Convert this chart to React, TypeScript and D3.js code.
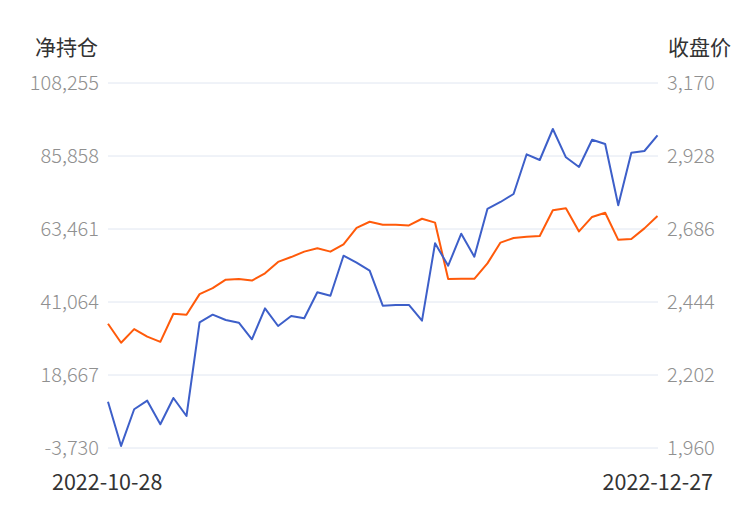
import { useEffect, useRef } from 'react'
import * as d3 from 'd3'

// 净持仓 (left axis) and 收盘价 (right axis), one point per trading day
const netPosition = [
  10480, -3100, 8150, 10790, 3540, 11610, 6090, 34840, 37170, 35540,
  34720, 29620, 39130, 33700, 36770, 36070, 44040, 43000, 55270, 53120,
  50670, 39930, 40150, 40150, 35330, 59080, 52200, 62020, 54960, 69600,
  71750, 74200, 86380, 84630, 94140, 85460, 82480, 90860, 89540, 70730,
  86870, 87390, 92210
]
const closePrice = [
  2372, 2309, 2354, 2329, 2312, 2405, 2402, 2470, 2490, 2518,
  2520, 2515, 2539, 2577, 2593, 2611, 2622, 2611, 2635, 2690,
  2710, 2700, 2700, 2698, 2720, 2707, 2520, 2521, 2521, 2572,
  2641, 2656, 2660, 2663, 2748, 2755, 2678, 2726, 2740, 2650,
  2653, 2688, 2729
]
const leftTicks = [-3730, 18667, 41064, 63461, 85858, 108255]
const rightTicks = [1960, 2202, 2444, 2686, 2928, 3170]
const dateLabels = ['2022-10-28', '2022-12-27']

const font = '"Noto Sans CJK SC", "Noto Sans", sans-serif'

export default function App() {
  const svgRef = useRef<SVGSVGElement>(null)

  useEffect(() => {
    if (!svgRef.current) return
    const width = 750
    const height = 510
    const left = 108
    const right = 658
    const top = 83
    const bottom = 448

    const svg = d3.select(svgRef.current)
    svg.selectAll('*').remove()
    svg.attr('width', width).attr('height', height)

    const x = d3.scaleLinear().domain([0, netPosition.length - 1]).range([left, right - 0.5])
    const yL = d3.scaleLinear().domain([leftTicks[0], leftTicks[leftTicks.length - 1]]).range([bottom, top])
    const yR = d3.scaleLinear().domain([rightTicks[0], rightTicks[rightTicks.length - 1]]).range([bottom, top])

    // grid lines
    svg.append('g')
      .selectAll('line')
      .data(leftTicks)
      .enter()
      .append('line')
      .attr('x1', left)
      .attr('x2', right)
      .attr('y1', d => yL(d))
      .attr('y2', d => yL(d))
      .attr('stroke', '#e0e6f1')
      .attr('stroke-width', 1)

    const fmt = (v: number) => d3.format(',')(v).replace('−', '-')

    // left tick labels
    svg.append('g')
      .selectAll('text')
      .data(leftTicks)
      .enter()
      .append('text')
      .attr('x', 99)
      .attr('y', d => yL(d))
      .attr('dy', '0.35em')
      .attr('text-anchor', 'end')
      .style('font-family', font)
      .style('font-weight', 300)
      .style('font-size', '20px')
      .style('fill', '#909090')
      .text(d => fmt(d))

    // right tick labels
    svg.append('g')
      .selectAll('text')
      .data(rightTicks)
      .enter()
      .append('text')
      .attr('x', 667)
      .attr('y', d => yR(d))
      .attr('dy', '0.35em')
      .attr('text-anchor', 'start')
      .style('font-family', font)
      .style('font-weight', 300)
      .style('font-size', '20px')
      .style('fill', '#909090')
      .text(d => fmt(d))

    // axis titles
    svg.append('text')
      .attr('x', 35).attr('y', 48).attr('dy', '0.35em')
      .style('font-family', font).style('font-size', '21px').style('fill', '#333')
      .text('净持仓')
    svg.append('text')
      .attr('x', 731).attr('y', 48).attr('dy', '0.35em')
      .attr('text-anchor', 'end')
      .style('font-family', font).style('font-size', '21px').style('fill', '#333')
      .text('收盘价')

    // date labels
    svg.append('text')
      .attr('x', 52).attr('y', 482).attr('dy', '0.35em')
      .style('font-family', font).style('font-size', '21.5px').style('fill', '#333')
      .text(dateLabels[0])
    svg.append('text')
      .attr('x', 713).attr('y', 482).attr('dy', '0.35em')
      .attr('text-anchor', 'end')
      .style('font-family', font).style('font-size', '21.5px').style('fill', '#333')
      .text(dateLabels[1])

    // lines
    const priceLine = d3.line<number>()
      .x((_, i) => x(i))
      .y(d => yR(d))
    const netLine = d3.line<number>()
      .x((_, i) => x(i))
      .y(d => yL(d))

    svg.append('path')
      .datum(closePrice)
      .attr('d', priceLine)
      .attr('fill', 'none')
      .attr('stroke', '#ff5a0a')
      .attr('stroke-width', 2)
      .attr('stroke-linejoin', 'round')

    svg.append('path')
      .datum(netPosition)
      .attr('d', netLine)
      .attr('fill', 'none')
      .attr('stroke', '#3d5fc9')
      .attr('stroke-width', 2)
      .attr('stroke-linejoin', 'round')
  }, [])

  return (
    <svg ref={svgRef} style={{ position: 'absolute', left: 0, top: 0, background: '#fff' }} />
  )
}
